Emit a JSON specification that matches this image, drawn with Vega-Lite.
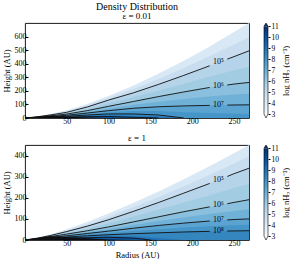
{
"$schema":"https://vega.github.io/schema/vega-lite/v6.json",
"background":"white",
"padding":{"left":1,"top":1,"right":0,"bottom":0},
"config":{
 "font":"Liberation Serif",
 "view":{"stroke":"black","strokeWidth":0.9},
 "axis":{"grid":false,"domain":false,"labelOverlap":false,"labelFlush":false,"labelFont":"Liberation Serif","labelFontSize":8,"labelColor":"black","titleFont":"Liberation Serif","titleFontSize":8.5,"titleFontWeight":"normal","titleColor":"black","tickColor":"black","tickSize":-3,"labelPadding":2,"titlePadding":3},
 "legend":{"disable":true},
 "title":{"font":"Liberation Serif","fontWeight":"normal","color":"black","subtitleFont":"Liberation Serif","subtitleColor":"black"}
},
"datasets":{
 "top":[
  {"R":0,"s":0,"c45":0,"c5":0,"c55":0,"c6":0,"c65":0,"c7":0,"c75":0,"c8":0,"c85":0,"c9":0,"w":0},
  {"R":15,"s":11,"c45":10,"c5":9,"c55":8,"c6":7,"c65":6,"c7":5,"c75":4.2,"c8":3.5,"c85":2.8,"c9":2,"w":10},
  {"R":30,"s":29,"c45":25.5,"c5":22,"c55":19,"c6":16,"c65":13.5,"c7":11,"c75":9,"c8":7,"c85":5.5,"c9":4,"w":16},
  {"R":50,"s":58,"c45":50,"c5":42,"c55":35.5,"c6":29,"c65":24.5,"c7":20,"c75":16.5,"c8":13,"c85":10,"c9":7,"w":10},
  {"R":75,"s":105,"c45":93.5,"c5":82,"c55":68.5,"c6":55,"c65":46,"c7":37,"c75":29.5,"c8":22,"c85":16,"c9":10,"w":3},
  {"R":100,"s":162,"c45":147,"c5":132,"c55":109,"c6":86,"c65":70,"c7":54,"c75":42,"c8":30,"c85":20.5,"c9":11,"w":0},
  {"R":130,"s":240,"c45":213,"c5":186,"c55":154,"c6":122,"c65":97,"c7":72,"c75":51,"c8":30,"c85":17.5,"c9":5,"w":0},
  {"R":160,"s":328,"c45":288,"c5":248,"c55":203,"c6":158,"c65":120.5,"c7":83,"c75":52,"c8":22,"c85":11,"c9":0,"w":0},
  {"R":190,"s":422,"c45":368,"c5":314,"c55":253,"c6":192,"c65":140.5,"c7":89,"c75":42,"c8":0,"c85":0,"c9":0,"w":0},
  {"R":220,"s":524,"c45":453.5,"c5":383,"c55":303.5,"c6":224,"c65":158.5,"c7":93,"c75":36,"c8":0,"c85":0,"c9":0,"w":0},
  {"R":250,"s":633,"c45":542.5,"c5":452,"c55":351,"c6":250,"c65":173,"c7":96,"c75":31,"c8":0,"c85":0,"c9":0,"w":0},
  {"R":268,"s":700,"c45":597.5,"c5":495,"c55":378.5,"c6":262,"c65":179.5,"c7":97,"c75":28,"c8":0,"c85":0,"c9":0,"w":0}
 ],
 "bot":[
  {"R":0,"s":0,"c45":0,"c5":0,"c55":0,"c6":0,"c65":0,"c7":0,"c75":0,"c8":0,"c85":0,"c9":0,"w":0},
  {"R":15,"s":10.6,"c45":9.8,"c5":9,"c55":8,"c6":7,"c65":6.2,"c7":5.5,"c75":4.8,"c8":4,"c85":3.2,"c9":2.5,"w":9.5},
  {"R":30,"s":26,"c45":23.5,"c5":21,"c55":18.5,"c6":16,"c65":14,"c7":12,"c75":10.2,"c8":8.5,"c85":6.8,"c9":5,"w":18},
  {"R":50,"s":51,"c45":45.5,"c5":40,"c55":34,"c6":28,"c65":24,"c7":20,"c75":17,"c8":14,"c85":11,"c9":8,"w":14},
  {"R":75,"s":86,"c45":76,"c5":66,"c55":55,"c6":44,"c65":37.5,"c7":31,"c75":25.5,"c8":20,"c85":15.5,"c9":11,"w":8},
  {"R":100,"s":125,"c45":110.5,"c5":96,"c55":79,"c6":62,"c65":52,"c7":42,"c75":33.5,"c8":25,"c85":19,"c9":13,"w":2},
  {"R":130,"s":176,"c45":156,"c5":136,"c55":111,"c6":86,"c65":71,"c7":56,"c75":43,"c8":30,"c85":18,"c9":9,"w":0},
  {"R":160,"s":230,"c45":204,"c5":178,"c55":144,"c6":110,"c65":89.5,"c7":69,"c75":51.5,"c8":34,"c85":10,"c9":0,"w":0},
  {"R":190,"s":288,"c45":255,"c5":222,"c55":178,"c6":134,"c65":107,"c7":80,"c75":59,"c8":38,"c85":0,"c9":0,"w":0},
  {"R":220,"s":348,"c45":307,"c5":266,"c55":211,"c6":156,"c65":123,"c7":90,"c75":65.5,"c8":41,"c85":0,"c9":0,"w":0},
  {"R":250,"s":411,"c45":362.5,"c5":314,"c55":246,"c6":178,"c65":137.5,"c7":97,"c75":70,"c8":43,"c85":0,"c9":0,"w":0},
  {"R":268,"s":450,"c45":395,"c5":340,"c55":265.5,"c6":191,"c65":145.5,"c7":100,"c75":72,"c8":44,"c85":0,"c9":0,"w":0}
 ],
 "topLines":[
  {"k":"5a","R":0,"value":0},{"k":"5a","R":15,"value":9},{"k":"5a","R":30,"value":22},{"k":"5a","R":50,"value":42},{"k":"5a","R":75,"value":82},{"k":"5a","R":100,"value":132},{"k":"5a","R":130,"value":186},{"k":"5a","R":160,"value":248},{"k":"5a","R":190,"value":314},{"k":"5a","R":221,"value":385},
  {"k":"5b","R":242,"value":434},{"k":"5b","R":250,"value":452},{"k":"5b","R":268,"value":495},
  {"k":"6a","R":0,"value":0},{"k":"6a","R":15,"value":7},{"k":"6a","R":30,"value":16},{"k":"6a","R":50,"value":29},{"k":"6a","R":75,"value":55},{"k":"6a","R":100,"value":86},{"k":"6a","R":130,"value":122},{"k":"6a","R":160,"value":158},{"k":"6a","R":190,"value":192},{"k":"6a","R":221,"value":225},
  {"k":"6b","R":242,"value":243},{"k":"6b","R":250,"value":250},{"k":"6b","R":268,"value":262},
  {"k":"7a","R":0,"value":0},{"k":"7a","R":15,"value":5},{"k":"7a","R":30,"value":11},{"k":"7a","R":50,"value":20},{"k":"7a","R":75,"value":37},{"k":"7a","R":100,"value":54},{"k":"7a","R":130,"value":72},{"k":"7a","R":160,"value":83},{"k":"7a","R":190,"value":89},{"k":"7a","R":221,"value":93},
  {"k":"7b","R":242,"value":95},{"k":"7b","R":250,"value":96},{"k":"7b","R":268,"value":97},
  {"k":"8","R":0,"value":0},{"k":"8","R":15,"value":3.5},{"k":"8","R":30,"value":7},{"k":"8","R":50,"value":13},{"k":"8","R":75,"value":22},{"k":"8","R":100,"value":30},{"k":"8","R":130,"value":30},{"k":"8","R":160,"value":22},{"k":"8","R":190,"value":0},
  {"k":"9","R":0,"value":0},{"k":"9","R":15,"value":2},{"k":"9","R":30,"value":4},{"k":"9","R":50,"value":7},{"k":"9","R":75,"value":10},{"k":"9","R":100,"value":11},{"k":"9","R":130,"value":5},{"k":"9","R":160,"value":0}
 ],
 "botLines":[
  {"k":"5a","R":0,"value":0},{"k":"5a","R":15,"value":9},{"k":"5a","R":30,"value":21},{"k":"5a","R":50,"value":40},{"k":"5a","R":75,"value":66},{"k":"5a","R":100,"value":96},{"k":"5a","R":130,"value":136},{"k":"5a","R":160,"value":178},{"k":"5a","R":190,"value":222},{"k":"5a","R":221,"value":268},
  {"k":"5b","R":242,"value":301},{"k":"5b","R":250,"value":314},{"k":"5b","R":268,"value":340},
  {"k":"6a","R":0,"value":0},{"k":"6a","R":15,"value":7},{"k":"6a","R":30,"value":16},{"k":"6a","R":50,"value":28},{"k":"6a","R":75,"value":44},{"k":"6a","R":100,"value":62},{"k":"6a","R":130,"value":86},{"k":"6a","R":160,"value":110},{"k":"6a","R":190,"value":134},{"k":"6a","R":221,"value":157},
  {"k":"6b","R":242,"value":172},{"k":"6b","R":250,"value":178},{"k":"6b","R":268,"value":191},
  {"k":"7a","R":0,"value":0},{"k":"7a","R":15,"value":5.5},{"k":"7a","R":30,"value":12},{"k":"7a","R":50,"value":20},{"k":"7a","R":75,"value":31},{"k":"7a","R":100,"value":42},{"k":"7a","R":130,"value":56},{"k":"7a","R":160,"value":69},{"k":"7a","R":190,"value":80},{"k":"7a","R":221,"value":90},
  {"k":"7b","R":242,"value":95},{"k":"7b","R":250,"value":97},{"k":"7b","R":268,"value":100},
  {"k":"8a","R":0,"value":0},{"k":"8a","R":15,"value":4},{"k":"8a","R":30,"value":8.5},{"k":"8a","R":50,"value":14},{"k":"8a","R":75,"value":20},{"k":"8a","R":100,"value":25},{"k":"8a","R":130,"value":30},{"k":"8a","R":160,"value":34},{"k":"8a","R":190,"value":38},{"k":"8a","R":221,"value":41},
  {"k":"8b","R":242,"value":42.5},{"k":"8b","R":250,"value":43},{"k":"8b","R":268,"value":44},
  {"k":"9","R":0,"value":0},{"k":"9","R":15,"value":2.5},{"k":"9","R":30,"value":5},{"k":"9","R":50,"value":8},{"k":"9","R":75,"value":11},{"k":"9","R":100,"value":13},{"k":"9","R":130,"value":9},{"k":"9","R":150,"value":0}
 ],
 "topLab":[{"R":231.5,"value":410,"t":"10⁵"},{"R":231.5,"value":234,"t":"10⁶"},{"R":231.5,"value":94,"t":"10⁷"}],
 "botLab":[{"R":231.5,"value":284,"t":"10⁵"},{"R":231.5,"value":164.5,"t":"10⁶"},{"R":231.5,"value":92.5,"t":"10⁷"},{"R":231.5,"value":42,"t":"10⁸"}],
 "cbar":[{"x":0,"x1":1,"lo":3,"hi":11}],
 "tri":[{"g":"t","x":0,"lo":11,"hi":11},{"g":"t","x":0.5,"lo":11,"hi":11.3},{"g":"t","x":1,"lo":11,"hi":11},{"g":"b","x":0,"lo":3,"hi":3},{"g":"b","x":0.5,"lo":2.64,"hi":3},{"g":"b","x":1,"lo":3,"hi":3}],
 "outline":[{"t":0,"x":0,"lo":3},{"t":1,"x":0,"lo":11},{"t":2,"x":0.5,"lo":11.3},{"t":3,"x":1,"lo":11},{"t":4,"x":1,"lo":3},{"t":5,"x":0.5,"lo":2.64},{"t":6,"x":0,"lo":3}]
},
"spacing":7,
"vconcat":[
 {"bounds":"flush","spacing":15,"hconcat":[
  {"width":224,"height":95,
   "title":{"text":"Density Distribution","subtitle":"ε = 0.01","fontSize":10,"subtitleFontSize":9,"subtitlePadding":0,"offset":2},
   "data":{"name":"top"},
   "encoding":{
    "x":{"field":"R","type":"quantitative","scale":{"domain":[0,268],"nice":false,"zero":false},"axis":{"values":[50,100,150,200,250],"labelOverlap":false},"title":null},
    "y":{"field":"value","type":"quantitative","scale":{"domain":[0,700],"nice":false},"axis":{"values":[0,100,200,300,400,500,600],"labelOverlap":false},"title":"Height (AU)"}
   },
   "layer":[
    {"transform":[{"fold":["s"],"as":["key","value"]}],"mark":{"type":"area","clip":true},"encoding":{"color":{"datum":4.2,"type":"quantitative","scale":{"domain":[3,4,5,6,7,8,9,10,11],"range":["#f7fbff","#deebf7","#c6dbef","#9ecae1","#6baed6","#4292c6","#2171b5","#08519c","#08306b"],"interpolate":"rgb"}}}},
    {"transform":[{"fold":["c45"],"as":["key","value"]}],"mark":{"type":"area","clip":true},"encoding":{"color":{"datum":4.9,"type":"quantitative","scale":{"domain":[3,4,5,6,7,8,9,10,11],"range":["#f7fbff","#deebf7","#c6dbef","#9ecae1","#6baed6","#4292c6","#2171b5","#08519c","#08306b"],"interpolate":"rgb"}}}},
    {"transform":[{"fold":["c5"],"as":["key","value"]}],"mark":{"type":"area","clip":true},"encoding":{"color":{"datum":5.4,"type":"quantitative","scale":{"domain":[3,4,5,6,7,8,9,10,11],"range":["#f7fbff","#deebf7","#c6dbef","#9ecae1","#6baed6","#4292c6","#2171b5","#08519c","#08306b"],"interpolate":"rgb"}}}},
    {"transform":[{"fold":["c55"],"as":["key","value"]}],"mark":{"type":"area","clip":true},"encoding":{"color":{"datum":5.9,"type":"quantitative","scale":{"domain":[3,4,5,6,7,8,9,10,11],"range":["#f7fbff","#deebf7","#c6dbef","#9ecae1","#6baed6","#4292c6","#2171b5","#08519c","#08306b"],"interpolate":"rgb"}}}},
    {"transform":[{"fold":["c6"],"as":["key","value"]}],"mark":{"type":"area","clip":true},"encoding":{"color":{"datum":6.4,"type":"quantitative","scale":{"domain":[3,4,5,6,7,8,9,10,11],"range":["#f7fbff","#deebf7","#c6dbef","#9ecae1","#6baed6","#4292c6","#2171b5","#08519c","#08306b"],"interpolate":"rgb"}}}},
    {"transform":[{"fold":["c65"],"as":["key","value"]}],"mark":{"type":"area","clip":true},"encoding":{"color":{"datum":6.9,"type":"quantitative","scale":{"domain":[3,4,5,6,7,8,9,10,11],"range":["#f7fbff","#deebf7","#c6dbef","#9ecae1","#6baed6","#4292c6","#2171b5","#08519c","#08306b"],"interpolate":"rgb"}}}},
    {"transform":[{"fold":["c7"],"as":["key","value"]}],"mark":{"type":"area","clip":true},"encoding":{"color":{"datum":7.4,"type":"quantitative","scale":{"domain":[3,4,5,6,7,8,9,10,11],"range":["#f7fbff","#deebf7","#c6dbef","#9ecae1","#6baed6","#4292c6","#2171b5","#08519c","#08306b"],"interpolate":"rgb"}}}},
    {"transform":[{"fold":["c75"],"as":["key","value"]}],"mark":{"type":"area","clip":true},"encoding":{"color":{"datum":7.9,"type":"quantitative","scale":{"domain":[3,4,5,6,7,8,9,10,11],"range":["#f7fbff","#deebf7","#c6dbef","#9ecae1","#6baed6","#4292c6","#2171b5","#08519c","#08306b"],"interpolate":"rgb"}}}},
    {"transform":[{"fold":["c8"],"as":["key","value"]}],"mark":{"type":"area","clip":true},"encoding":{"color":{"datum":8.4,"type":"quantitative","scale":{"domain":[3,4,5,6,7,8,9,10,11],"range":["#f7fbff","#deebf7","#c6dbef","#9ecae1","#6baed6","#4292c6","#2171b5","#08519c","#08306b"],"interpolate":"rgb"}}}},
    {"transform":[{"fold":["c85"],"as":["key","value"]}],"mark":{"type":"area","clip":true},"encoding":{"color":{"datum":8.9,"type":"quantitative","scale":{"domain":[3,4,5,6,7,8,9,10,11],"range":["#f7fbff","#deebf7","#c6dbef","#9ecae1","#6baed6","#4292c6","#2171b5","#08519c","#08306b"],"interpolate":"rgb"}}}},
    {"transform":[{"fold":["c9"],"as":["key","value"]}],"mark":{"type":"area","clip":true},"encoding":{"color":{"datum":9.8,"type":"quantitative","scale":{"domain":[3,4,5,6,7,8,9,10,11],"range":["#f7fbff","#deebf7","#c6dbef","#9ecae1","#6baed6","#4292c6","#2171b5","#08519c","#08306b"],"interpolate":"rgb"}}}},
    {"transform":[{"fold":["w"],"as":["key","value"]}],"mark":{"type":"area","clip":true,"color":"#0b0c14"},"encoding":{}},
    {"data":{"name":"topLines"},"mark":{"type":"line","color":"#111111","strokeWidth":0.9,"clip":true},"encoding":{"detail":{"field":"k"}}},
    {"data":{"name":"topLab"},"mark":{"type":"text","font":"Liberation Serif","fontSize":8,"color":"black"},"encoding":{"text":{"field":"t"}}}
   ]},
  {"width":4,"height":95,"view":{"stroke":null},
   "encoding":{
    "x":{"field":"x","type":"quantitative","scale":{"domain":[0,1],"nice":false},"axis":null},
    "y":{"field":"lo","type":"quantitative","scale":{"domain":[2.64,11.3],"nice":false,"zero":false},"axis":{"orient":"right","values":[3,4,5,6,7,8,9,10,11],"labelOverlap":false,"labelFontSize":7.5,"tickSize":2,"labelPadding":1,"titleAngle":270,"titleBaseline":"top","titlePadding":3},"title":"log nH₂ (cm⁻³)"}
   },
   "layer":[
    {"data":{"name":"cbar"},"mark":{"type":"rect","color":{"gradient":"linear","x1":0,"y1":1,"x2":0,"y2":0,"stops":[{"offset":0,"color":"#f7fbff"},{"offset":0.125,"color":"#deebf7"},{"offset":0.25,"color":"#c6dbef"},{"offset":0.375,"color":"#9ecae1"},{"offset":0.5,"color":"#6baed6"},{"offset":0.625,"color":"#4292c6"},{"offset":0.75,"color":"#2171b5"},{"offset":0.875,"color":"#08519c"},{"offset":1,"color":"#08306b"}]}},"encoding":{"x2":{"field":"x1"},"y2":{"field":"hi"}}},
    {"data":{"name":"tri"},"transform":[{"filter":"datum.g == 't'"}],"mark":{"type":"area","color":"#08306b"},"encoding":{"y2":{"field":"hi"}}},
    {"data":{"name":"tri"},"transform":[{"filter":"datum.g == 'b'"}],"mark":{"type":"area","color":"#f7fbff"},"encoding":{"y2":{"field":"hi"}}},
    {"data":{"name":"outline"},"mark":{"type":"line","color":"black","strokeWidth":0.6},"encoding":{"order":{"field":"t"}}}
   ]}
 ]},
 {"bounds":"flush","spacing":15,"hconcat":[
  {"width":224,"height":95,
   "title":{"text":"ε = 1","fontSize":9,"offset":2},
   "data":{"name":"bot"},
   "encoding":{
    "x":{"field":"R","type":"quantitative","scale":{"domain":[0,268],"nice":false,"zero":false},"axis":{"values":[50,100,150,200,250],"labelOverlap":false},"title":"Radius (AU)"},
    "y":{"field":"value","type":"quantitative","scale":{"domain":[0,450],"nice":false},"axis":{"values":[0,100,200,300,400],"labelOverlap":false},"title":"Height (AU)"}
   },
   "layer":[
    {"transform":[{"fold":["s"],"as":["key","value"]}],"mark":{"type":"area","clip":true},"encoding":{"color":{"datum":4.2,"type":"quantitative","scale":{"domain":[3,4,5,6,7,8,9,10,11],"range":["#f7fbff","#deebf7","#c6dbef","#9ecae1","#6baed6","#4292c6","#2171b5","#08519c","#08306b"],"interpolate":"rgb"}}}},
    {"transform":[{"fold":["c45"],"as":["key","value"]}],"mark":{"type":"area","clip":true},"encoding":{"color":{"datum":4.9,"type":"quantitative","scale":{"domain":[3,4,5,6,7,8,9,10,11],"range":["#f7fbff","#deebf7","#c6dbef","#9ecae1","#6baed6","#4292c6","#2171b5","#08519c","#08306b"],"interpolate":"rgb"}}}},
    {"transform":[{"fold":["c5"],"as":["key","value"]}],"mark":{"type":"area","clip":true},"encoding":{"color":{"datum":5.4,"type":"quantitative","scale":{"domain":[3,4,5,6,7,8,9,10,11],"range":["#f7fbff","#deebf7","#c6dbef","#9ecae1","#6baed6","#4292c6","#2171b5","#08519c","#08306b"],"interpolate":"rgb"}}}},
    {"transform":[{"fold":["c55"],"as":["key","value"]}],"mark":{"type":"area","clip":true},"encoding":{"color":{"datum":5.9,"type":"quantitative","scale":{"domain":[3,4,5,6,7,8,9,10,11],"range":["#f7fbff","#deebf7","#c6dbef","#9ecae1","#6baed6","#4292c6","#2171b5","#08519c","#08306b"],"interpolate":"rgb"}}}},
    {"transform":[{"fold":["c6"],"as":["key","value"]}],"mark":{"type":"area","clip":true},"encoding":{"color":{"datum":6.4,"type":"quantitative","scale":{"domain":[3,4,5,6,7,8,9,10,11],"range":["#f7fbff","#deebf7","#c6dbef","#9ecae1","#6baed6","#4292c6","#2171b5","#08519c","#08306b"],"interpolate":"rgb"}}}},
    {"transform":[{"fold":["c65"],"as":["key","value"]}],"mark":{"type":"area","clip":true},"encoding":{"color":{"datum":6.9,"type":"quantitative","scale":{"domain":[3,4,5,6,7,8,9,10,11],"range":["#f7fbff","#deebf7","#c6dbef","#9ecae1","#6baed6","#4292c6","#2171b5","#08519c","#08306b"],"interpolate":"rgb"}}}},
    {"transform":[{"fold":["c7"],"as":["key","value"]}],"mark":{"type":"area","clip":true},"encoding":{"color":{"datum":7.4,"type":"quantitative","scale":{"domain":[3,4,5,6,7,8,9,10,11],"range":["#f7fbff","#deebf7","#c6dbef","#9ecae1","#6baed6","#4292c6","#2171b5","#08519c","#08306b"],"interpolate":"rgb"}}}},
    {"transform":[{"fold":["c75"],"as":["key","value"]}],"mark":{"type":"area","clip":true},"encoding":{"color":{"datum":7.9,"type":"quantitative","scale":{"domain":[3,4,5,6,7,8,9,10,11],"range":["#f7fbff","#deebf7","#c6dbef","#9ecae1","#6baed6","#4292c6","#2171b5","#08519c","#08306b"],"interpolate":"rgb"}}}},
    {"transform":[{"fold":["c8"],"as":["key","value"]}],"mark":{"type":"area","clip":true},"encoding":{"color":{"datum":8.4,"type":"quantitative","scale":{"domain":[3,4,5,6,7,8,9,10,11],"range":["#f7fbff","#deebf7","#c6dbef","#9ecae1","#6baed6","#4292c6","#2171b5","#08519c","#08306b"],"interpolate":"rgb"}}}},
    {"transform":[{"fold":["c85"],"as":["key","value"]}],"mark":{"type":"area","clip":true},"encoding":{"color":{"datum":8.9,"type":"quantitative","scale":{"domain":[3,4,5,6,7,8,9,10,11],"range":["#f7fbff","#deebf7","#c6dbef","#9ecae1","#6baed6","#4292c6","#2171b5","#08519c","#08306b"],"interpolate":"rgb"}}}},
    {"transform":[{"fold":["c9"],"as":["key","value"]}],"mark":{"type":"area","clip":true},"encoding":{"color":{"datum":9.8,"type":"quantitative","scale":{"domain":[3,4,5,6,7,8,9,10,11],"range":["#f7fbff","#deebf7","#c6dbef","#9ecae1","#6baed6","#4292c6","#2171b5","#08519c","#08306b"],"interpolate":"rgb"}}}},
    {"transform":[{"fold":["w"],"as":["key","value"]}],"mark":{"type":"area","clip":true,"color":"#0b0c14"},"encoding":{}},
    {"data":{"name":"botLines"},"mark":{"type":"line","color":"#111111","strokeWidth":0.9,"clip":true},"encoding":{"detail":{"field":"k"}}},
    {"data":{"name":"botLab"},"mark":{"type":"text","font":"Liberation Serif","fontSize":8,"color":"black"},"encoding":{"text":{"field":"t"}}}
   ]},
  {"width":4,"height":95,"view":{"stroke":null},
   "encoding":{
    "x":{"field":"x","type":"quantitative","scale":{"domain":[0,1],"nice":false},"axis":null},
    "y":{"field":"lo","type":"quantitative","scale":{"domain":[2.64,11.3],"nice":false,"zero":false},"axis":{"orient":"right","values":[3,4,5,6,7,8,9,10,11],"labelOverlap":false,"labelFontSize":7.5,"tickSize":2,"labelPadding":1,"titleAngle":270,"titleBaseline":"top","titlePadding":3},"title":"log nH₂ (cm⁻³)"}
   },
   "layer":[
    {"data":{"name":"cbar"},"mark":{"type":"rect","color":{"gradient":"linear","x1":0,"y1":1,"x2":0,"y2":0,"stops":[{"offset":0,"color":"#f7fbff"},{"offset":0.125,"color":"#deebf7"},{"offset":0.25,"color":"#c6dbef"},{"offset":0.375,"color":"#9ecae1"},{"offset":0.5,"color":"#6baed6"},{"offset":0.625,"color":"#4292c6"},{"offset":0.75,"color":"#2171b5"},{"offset":0.875,"color":"#08519c"},{"offset":1,"color":"#08306b"}]}},"encoding":{"x2":{"field":"x1"},"y2":{"field":"hi"}}},
    {"data":{"name":"tri"},"transform":[{"filter":"datum.g == 't'"}],"mark":{"type":"area","color":"#08306b"},"encoding":{"y2":{"field":"hi"}}},
    {"data":{"name":"tri"},"transform":[{"filter":"datum.g == 'b'"}],"mark":{"type":"area","color":"#f7fbff"},"encoding":{"y2":{"field":"hi"}}},
    {"data":{"name":"outline"},"mark":{"type":"line","color":"black","strokeWidth":0.6},"encoding":{"order":{"field":"t"}}}
   ]}
 ]}
]
}
